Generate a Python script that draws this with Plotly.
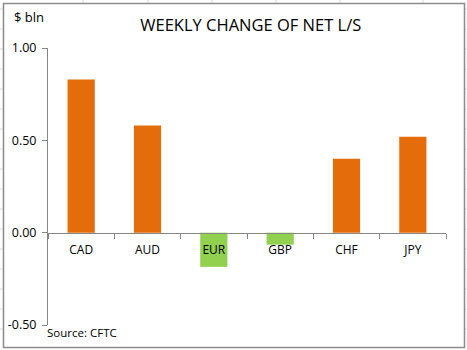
import plotly.graph_objects as go

categories = ["CAD", "AUD", "EUR", "GBP", "CHF", "JPY"]
values = [0.83, 0.58, -0.185, -0.065, 0.40, 0.52]
tick_vals = [-0.5, 0.0, 0.5, 1.0]
tick_text = ["-0.50", "0.00", "0.50", "1.00"]

ORANGE = "#E46C0A"
GREEN = "#92D050"
colors = [ORANGE if v >= 0 else GREEN for v in values]

FONT = "Open Sans"
W, H = 467, 350
ml, mr, mt, mb = 48, 21, 48, 25

fig = go.Figure()
fig.add_trace(go.Bar(
    x=categories, y=values, marker=dict(color=colors, line=dict(width=0)),
    width=0.41, hoverinfo="skip",
))

ymin, ymax = -0.5, 1.0
fig.update_layout(
    width=W, height=H,
    margin=dict(l=ml, r=mr, t=mt, b=mb, pad=0, autoexpand=False),
    paper_bgcolor="white", plot_bgcolor="white",
    showlegend=False,
    font=dict(family=FONT, size=12, color="#000000"),
    title=dict(text="WEEKLY CHANGE OF NET L/S", x=0.537, xanchor="center",
               y=1 - 25 / H, yanchor="middle",
               font=dict(family=FONT, size=16.5, color="#000000")),
    xaxis=dict(
        type="category", showgrid=False, showline=True, linecolor="#868686", linewidth=1,
        ticks="outside", tickson="boundaries", ticklen=5, tickcolor="#868686",
        anchor="free", position=(0 - ymin) / (ymax - ymin),
        tickfont=dict(family=FONT, size=12, color="#000000"),
        ticklabelstandoff=6, automargin=False,
        zeroline=False,
    ),
    yaxis=dict(
        range=[ymin, ymax], tickvals=tick_vals, ticktext=tick_text,
        showgrid=False, zeroline=False, showline=True, linecolor="#868686", linewidth=1,
        ticks="outside", ticklen=5, tickcolor="#868686",
        tickfont=dict(family=FONT, size=12.5, color="#000000"),
        ticklabelstandoff=3, automargin=False,
    ),
    bargap=0.59,
)

fig.add_annotation(text="$ bln", xref="paper", yref="paper",
                   x=-36 / (W - ml - mr), y=1 + 31 / (H - mt - mb),
                   xanchor="left", yanchor="middle", showarrow=False,
                   font=dict(family=FONT, size=13, color="#000000"))
fig.add_annotation(text="Source: CFTC", xref="paper", yref="paper",
                   x=-3 / (W - ml - mr), y=-7 / (H - mt - mb),
                   xanchor="left", yanchor="middle", showarrow=False,
                   font=dict(family=FONT, size=11.5, color="#000000"))

# Excel sheet gridlines outside the chart frame
pw, ph = W - ml - mr, H - mt - mb
def px(x):
    return (x - ml) / pw
def py(y):
    return 1 - (y - mt) / ph
for gx in [83, 148, 212, 276, 340, 423]:
    fig.add_shape(type="line", xref="paper", yref="paper", x0=px(gx), x1=px(gx),
                  y0=py(0), y1=py(3), line=dict(color="#DADADA", width=1), layer="below")
for gy in [9, 29, 49, 69, 89, 109, 129, 149, 169, 189, 209, 229, 249, 269, 289, 309, 329]:
    fig.add_shape(type="line", xref="paper", yref="paper", x0=px(0), x1=px(3),
                  y0=py(gy), y1=py(gy), line=dict(color="#DADADA", width=1), layer="below")
    fig.add_shape(type="line", xref="paper", yref="paper", x0=px(464), x1=px(467),
                  y0=py(gy), y1=py(gy), line=dict(color="#DADADA", width=1), layer="below")
# chart frame
fig.add_shape(type="rect", xref="paper", yref="paper",
              x0=px(3.5), x1=px(464.5), y0=py(3.5), y1=py(347.5),
              line=dict(color="#8C8C8C", width=1.5), fillcolor="rgba(0,0,0,0)", layer="below")

fig.write_html("out.html")
